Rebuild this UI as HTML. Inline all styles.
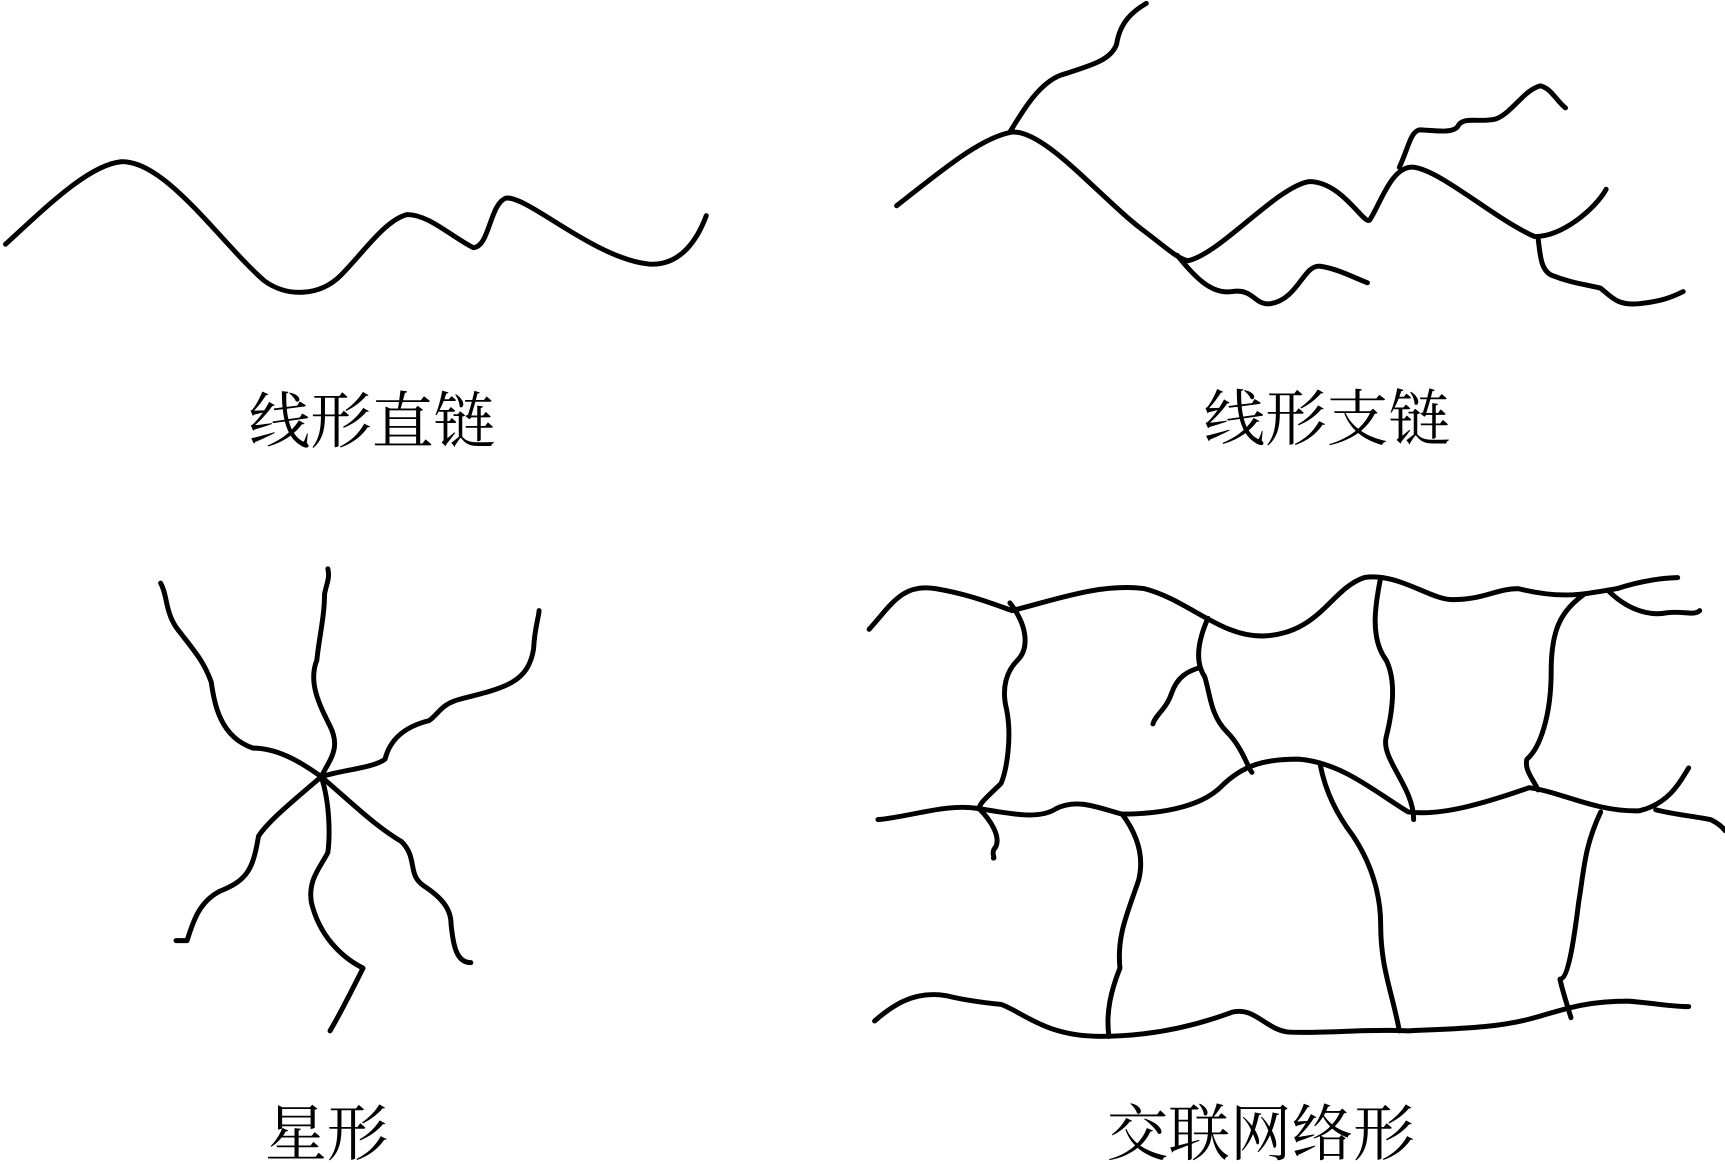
<!DOCTYPE html>
<html><head><meta charset="utf-8"><style>
html,body{margin:0;padding:0;background:#fff;width:1725px;height:1164px;overflow:hidden}
svg{display:block}
text{font-family:"Liberation Serif","Noto Serif CJK SC",serif;font-size:56px;fill:#000}
</style></head><body>
<svg width="1725" height="1164" viewBox="0 0 1568 1058" xmlns="http://www.w3.org/2000/svg">
<g fill="none" stroke="#000" stroke-width="4.5" stroke-linecap="round" stroke-linejoin="round">
<path d="M5,222 C40,190 80,150 110,147 C150,145 200,220 240,255 C260,270 290,270 310,250 C330,230 350,200 370,195 C390,195 410,215 430,225 C445,225 445,185 460,180 C480,178 540,235 590,240 C620,242 635,215 642,196"/>
<path d="M815,187 C850,160 890,125 920,120 C950,118 1000,180 1040,210 C1060,225 1070,235 1080,237 C1110,230 1160,170 1190,165 C1220,165 1240,205 1245,200 C1255,185 1265,150 1285,152 C1310,155 1360,200 1395,215 C1420,215 1450,190 1460,172"/>
<path d="M918,120 C930,100 945,75 965,68 C990,60 1010,55 1015,40 C1018,20 1030,10 1042,3"/>
<path d="M1070,232 C1085,250 1100,268 1120,265 C1140,262 1140,278 1155,276 C1180,272 1185,240 1200,242 C1215,244 1230,252 1243,257"/>
<path d="M1272,152 C1280,135 1282,120 1290,118 C1300,118 1320,122 1325,115 C1330,105 1345,112 1360,108 C1375,102 1385,82 1400,78 C1410,80 1415,92 1423,98"/>
<path d="M1398,216 C1400,230 1400,245 1410,250 C1430,258 1440,258 1455,262 C1465,270 1470,278 1490,276 C1510,274 1520,270 1530,265"/>
<path d="M292,706 C300,690 310,680 300,660 C290,640 280,620 288,600 C290,580 295,560 295,540 C297,530 300,525 298,517"/>
<path d="M292,706 C270,690 250,680 230,680 C200,670 195,640 192,620 C185,600 175,590 160,570 C150,555 152,540 146,530"/>
<path d="M292,706 C310,700 340,698 350,690 C355,670 370,660 390,655 C400,648 400,640 420,635 C460,625 480,620 485,590 C486,570 490,560 490,555"/>
<path d="M292,706 C270,725 245,745 235,760 C230,790 225,800 200,810 C180,820 175,840 170,855 L160,855"/>
<path d="M292,706 C300,730 300,760 298,775 C290,790 280,800 283,820 C290,850 310,870 330,880 C320,900 310,920 300,937"/>
<path d="M292,706 C320,730 340,750 365,765 C380,780 370,795 385,805 C400,815 410,825 410,840 C412,860 415,875 428,875"/>
<path d="M790,572 C810,550 820,530 850,535 C880,540 900,548 920,555 C960,545 1000,530 1040,535 C1080,545 1110,580 1150,578 C1200,575 1210,535 1240,525 C1270,520 1300,545 1320,545 C1350,545 1360,535 1380,535 C1420,545 1440,540 1470,535 C1500,525 1525,525 1525,525"/>
<path d="M798,745 C830,742 860,730 890,735 C920,740 945,745 960,735 C980,725 1000,735 1020,740 C1050,740 1090,735 1110,715 C1130,695 1150,690 1180,690 C1220,693 1250,720 1280,738 C1310,742 1350,730 1390,716 C1420,720 1450,738 1490,737 C1520,730 1530,705 1535,698"/>
<path d="M795,928 C810,915 830,900 860,905 C880,910 900,912 910,913 C930,920 950,942 1000,942 C1040,942 1080,935 1120,920 C1140,915 1150,935 1170,938 C1200,940 1240,935 1280,937 C1320,935 1360,935 1395,925 C1420,918 1440,910 1480,910 C1505,912 1520,915 1535,915"/>
<path d="M918,548 C935,570 935,590 925,600 C915,610 910,625 915,645 C920,670 915,700 910,712 C900,722 890,730 890,735 C900,745 910,760 905,770 C900,775 905,780 903,780"/>
<path d="M1098,562 C1090,580 1085,600 1095,615 C1100,630 1100,650 1115,665 C1130,680 1135,700 1138,702"/>
<path d="M1090,607 C1080,610 1070,615 1065,630 C1060,645 1050,650 1048,658"/>
<path d="M1255,525 C1250,550 1245,580 1260,600 C1270,620 1265,650 1260,670 C1255,690 1285,715 1285,745"/>
<path d="M1440,540 C1420,555 1410,570 1410,610 C1410,650 1400,680 1388,690 C1385,700 1395,710 1398,718"/>
<path d="M1462,537 C1480,555 1500,560 1515,557 C1530,555 1540,560 1545,555"/>
<path d="M1505,736 C1520,740 1540,742 1555,745 C1565,750 1568,755 1568,755"/>
<path d="M1020,740 C1035,760 1040,780 1035,800 C1025,830 1015,850 1018,880 C1010,900 1005,920 1008,942"/>
<path d="M1200,695 C1205,720 1215,740 1230,760 C1250,790 1255,820 1255,840 C1255,880 1265,900 1272,937"/>
<path d="M1455,738 C1440,770 1440,790 1435,820 C1430,860 1425,890 1418,890 C1420,900 1425,915 1428,925"/>
</g>
<text x="338" y="402" text-anchor="middle">线形直链</text>
<text x="1206" y="400" text-anchor="middle">线形支链</text>
<text x="297" y="1050" text-anchor="middle">星形</text>
<text x="1146" y="1050" text-anchor="middle">交联网络形</text>
</svg>
</body></html>
